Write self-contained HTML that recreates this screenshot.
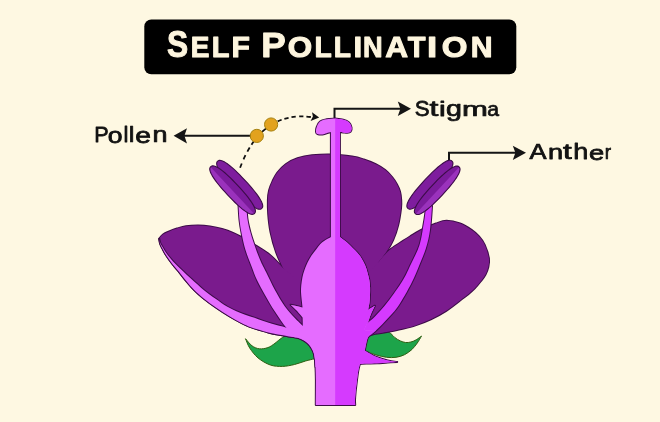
<!DOCTYPE html>
<html><head><meta charset="utf-8"><style>
html,body{margin:0;padding:0;background:#FEF8E2;}
svg{display:block;}
text{font-family:"Liberation Sans",sans-serif;}
</style></head><body>
<svg width="660" height="422" viewBox="0 0 660 422">
<defs>
<filter id="nof" x="0" y="0" width="660" height="422" filterUnits="userSpaceOnUse"><feOffset dx="0" dy="0"/></filter>
<clipPath id="rhalf"><rect x="335.2" y="0" width="200" height="422"/></clipPath>
</defs>
<rect width="660" height="422" fill="#FEF8E2"/>
<!-- title -->
<rect x="144.3" y="19.4" width="372" height="54.8" rx="7" fill="#000"/>
<g filter="url(#nof)"><text transform="translate(167.90,57.05) scale(0.874,1)" x="-1.05" font-size="36.30" font-weight="bold" fill="#FDF5DE"  stroke="#FDF5DE" stroke-width="1.0" stroke-linejoin="round">S</text><text transform="translate(192.60,57.00) scale(0.958,1)" x="-1.95" font-size="29.22" font-weight="bold" fill="#FDF5DE"  stroke="#FDF5DE" stroke-width="1.0" stroke-linejoin="round">E</text><text transform="translate(213.80,57.00) scale(0.994,1)" x="-1.95" font-size="29.22" font-weight="bold" fill="#FDF5DE"  stroke="#FDF5DE" stroke-width="1.0" stroke-linejoin="round">L</text><text transform="translate(233.50,57.00) scale(1.032,1)" x="-1.95" font-size="29.22" font-weight="bold" fill="#FDF5DE"  stroke="#FDF5DE" stroke-width="1.0" stroke-linejoin="round">F</text><text transform="translate(263.70,57.00) scale(1.045,1)" x="-2.35" font-size="35.18" font-weight="bold" fill="#FDF5DE"  stroke="#FDF5DE" stroke-width="1.0" stroke-linejoin="round">P</text><text transform="translate(289.10,57.11) scale(1.063,1)" x="-1.21" font-size="29.52" font-weight="bold" fill="#FDF5DE"  stroke="#FDF5DE" stroke-width="1.0" stroke-linejoin="round">O</text><text transform="translate(316.40,57.00) scale(0.967,1)" x="-1.95" font-size="29.22" font-weight="bold" fill="#FDF5DE"  stroke="#FDF5DE" stroke-width="1.0" stroke-linejoin="round">L</text><text transform="translate(335.50,57.00) scale(0.967,1)" x="-1.95" font-size="29.22" font-weight="bold" fill="#FDF5DE"  stroke="#FDF5DE" stroke-width="1.0" stroke-linejoin="round">L</text><text transform="translate(355.50,57.00) scale(1.069,1)" x="-1.95" font-size="29.22" font-weight="bold" fill="#FDF5DE"  stroke="#FDF5DE" stroke-width="1.0" stroke-linejoin="round">I</text><text transform="translate(364.70,57.00) scale(0.932,1)" x="-1.95" font-size="29.22" font-weight="bold" fill="#FDF5DE"  stroke="#FDF5DE" stroke-width="1.0" stroke-linejoin="round">N</text><text transform="translate(386.00,57.00) scale(1.082,1)" x="-0.73" font-size="29.22" font-weight="bold" fill="#FDF5DE"  stroke="#FDF5DE" stroke-width="1.0" stroke-linejoin="round">A</text><text transform="translate(408.20,57.00) scale(0.994,1)" x="-0.33" font-size="29.22" font-weight="bold" fill="#FDF5DE"  stroke="#FDF5DE" stroke-width="1.0" stroke-linejoin="round">T</text><text transform="translate(429.50,57.00) scale(1.259,1)" x="-1.95" font-size="29.22" font-weight="bold" fill="#FDF5DE"  stroke="#FDF5DE" stroke-width="1.0" stroke-linejoin="round">I</text><text transform="translate(443.00,57.11) scale(1.121,1)" x="-1.21" font-size="29.52" font-weight="bold" fill="#FDF5DE"  stroke="#FDF5DE" stroke-width="1.0" stroke-linejoin="round">O</text><text transform="translate(472.70,57.00) scale(1.036,1)" x="-1.95" font-size="29.22" font-weight="bold" fill="#FDF5DE"  stroke="#FDF5DE" stroke-width="1.0" stroke-linejoin="round">N</text></g>
<!-- labels -->
<g opacity="0.995"><text transform="translate(95.97,142.43) scale(0.964,1)" x="-1.83" font-size="22.31" font-weight="normal" fill="#111"  stroke="#111" stroke-width="0.75" stroke-linejoin="round" style="font-weight:normal">P</text><text transform="translate(108.78,142.52) scale(1.239,1)" x="-0.90" font-size="21.45" font-weight="normal" fill="#111"  stroke="#111" stroke-width="0.75" stroke-linejoin="round" style="font-weight:normal">o</text><text transform="translate(124.88,142.43) scale(0.971,1)" x="-1.54" font-size="22.84" font-weight="normal" fill="#111"  stroke="#111" stroke-width="0.75" stroke-linejoin="round" style="font-weight:normal">l</text><text transform="translate(130.57,142.43) scale(1.121,1)" x="-1.54" font-size="22.84" font-weight="normal" fill="#111"  stroke="#111" stroke-width="0.75" stroke-linejoin="round" style="font-weight:normal">l</text><text transform="translate(136.57,142.52) scale(1.317,1)" x="-0.91" font-size="21.45" font-weight="normal" fill="#111"  stroke="#111" stroke-width="0.75" stroke-linejoin="round" style="font-weight:normal">e</text><text transform="translate(154.18,142.43) scale(1.267,1)" x="-1.41" font-size="21.28" font-weight="normal" fill="#111"  stroke="#111" stroke-width="0.75" stroke-linejoin="round" style="font-weight:normal">n</text><text transform="translate(415.77,116.20) scale(0.991,1)" x="-1.02" font-size="22.53" font-weight="normal" fill="#111"  stroke="#111" stroke-width="0.75" stroke-linejoin="round" style="font-weight:normal">S</text><text transform="translate(430.07,116.16) scale(1.508,1)" x="-0.32" font-size="21.17" font-weight="normal" fill="#111"  stroke="#111" stroke-width="0.75" stroke-linejoin="round" style="font-weight:normal">t</text><text transform="translate(440.98,116.12) scale(1.461,1)" x="-1.38" font-size="20.63" font-weight="normal" fill="#111"  stroke="#111" stroke-width="0.75" stroke-linejoin="round" style="font-weight:normal">i</text><text transform="translate(447.18,116.40) scale(1.342,1)" x="-0.89" font-size="21.30" font-weight="normal" fill="#111"  stroke="#111" stroke-width="0.75" stroke-linejoin="round" style="font-weight:normal">g</text><text transform="translate(464.18,116.12) scale(1.498,1)" x="-1.38" font-size="20.72" font-weight="normal" fill="#111"  stroke="#111" stroke-width="0.75" stroke-linejoin="round" style="font-weight:normal">m</text><text transform="translate(488.07,116.22) scale(1.011,1)" x="-0.89" font-size="20.90" font-weight="normal" fill="#111"  stroke="#111" stroke-width="0.75" stroke-linejoin="round" style="font-weight:normal">a</text><text transform="translate(529.48,159.43) scale(1.131,1)" x="-0.04" font-size="22.60" font-weight="normal" fill="#111"  stroke="#111" stroke-width="0.75" stroke-linejoin="round" style="font-weight:normal">A</text><text transform="translate(549.88,159.43) scale(1.312,1)" x="-1.38" font-size="20.72" font-weight="normal" fill="#111"  stroke="#111" stroke-width="0.75" stroke-linejoin="round" style="font-weight:normal">n</text><text transform="translate(563.58,159.45) scale(1.427,1)" x="-0.33" font-size="22.08" font-weight="normal" fill="#111"  stroke="#111" stroke-width="0.75" stroke-linejoin="round" style="font-weight:normal">t</text><text transform="translate(575.17,159.43) scale(1.210,1)" x="-1.55" font-size="22.43" font-weight="normal" fill="#111"  stroke="#111" stroke-width="0.75" stroke-linejoin="round" style="font-weight:normal">h</text><text transform="translate(590.17,159.52) scale(1.310,1)" x="-0.89" font-size="20.90" font-weight="normal" fill="#111"  stroke="#111" stroke-width="0.75" stroke-linejoin="round" style="font-weight:normal">e</text><text transform="translate(605.88,159.43) scale(0.917,1)" x="-1.38" font-size="20.72" font-weight="normal" fill="#111"  stroke="#111" stroke-width="0.75" stroke-linejoin="round" style="font-weight:normal">r</text></g>
<g stroke="#151515" stroke-width="2" fill="none">
<path d="M184,135.85 H251"/>
<path d="M334.5,118.5 V108.75 H401.5"/>
<path d="M449,160 V152.85 H516.5"/>
</g>
<g fill="#151515">
<path d="M173.6,135.85 L187,128.2 L184.4,135.85 L187,143.5 Z"/>
<path d="M411,108.75 L397.8,101.6 L400.4,108.75 L397.8,115.9 Z"/>
<path d="M526,152.85 L512.8,145.7 L515.4,152.85 L512.8,160 Z"/>
</g>
<!-- leaves -->
<g fill="#1DA44A" stroke="#2E5F12" stroke-width="1">
<path d="M245.5,338.7 C246.6,339.9 249.7,344.1 252.0,345.8 C254.3,347.5 256.8,348.5 259.4,348.8 C262.0,349.1 265.3,348.5 267.9,347.6 C270.5,346.7 272.6,345.0 275.0,343.3 C277.4,341.6 279.6,339.1 282.4,337.5 C285.2,335.9 288.2,333.9 292.0,334.0 C295.8,334.1 302.8,337.3 305.0,338.0 L318.0,358.0 C315.9,358.5 309.4,359.9 305.5,361.0 C301.6,362.1 298.4,363.6 294.5,364.5 C290.6,365.4 286.4,366.3 282.4,366.4 C278.4,366.5 274.4,366.4 270.3,365.0 C266.2,363.6 261.4,360.7 258.0,357.9 C254.6,355.1 251.8,351.2 249.7,348.0 C247.6,344.8 246.2,340.2 245.5,338.7 Z"/><path d="M421.5,336.1 C420.6,336.7 418.0,338.8 416.2,339.8 C414.4,340.8 412.7,341.6 410.9,342.0 C409.1,342.4 407.4,342.7 405.6,342.5 C403.8,342.3 402.1,341.7 400.3,340.9 C398.5,340.1 396.6,338.9 395.0,337.7 C393.4,336.5 392.5,334.8 390.8,333.5 C389.1,332.2 386.0,330.6 385.0,330.0 C382.5,330.2 373.1,328.6 370.0,331.0 C366.9,333.4 367.4,340.9 366.4,344.1 C365.4,347.4 364.6,349.4 364.2,350.5 C365.1,350.9 367.4,351.8 369.5,352.6 C371.6,353.4 374.2,354.4 377.0,355.2 C379.8,356.0 383.3,356.9 386.5,357.3 C389.7,357.7 393.0,357.7 396.0,357.3 C399.0,356.9 401.8,356.0 404.5,354.7 C407.2,353.4 409.9,351.3 412.0,349.4 C414.1,347.4 415.7,345.2 417.3,343.0 C418.9,340.8 420.8,337.2 421.5,336.1 Z"/>
</g>
<!-- purple petals union -->
<g stroke="#3C0C48" stroke-width="2" fill="none" stroke-linejoin="round">
<path d="M283.0,268.0 C281.8,265.3 278.1,258.0 276.0,252.0 C273.9,246.0 271.8,238.3 270.5,232.0 C269.2,225.7 268.6,219.3 268.2,214.0 C267.8,208.7 267.8,203.9 267.9,200.0 C268.0,196.1 268.3,193.5 269.1,190.3 C269.9,187.1 271.3,183.8 272.7,180.8 C274.1,177.8 275.2,175.3 277.4,172.5 C279.6,169.7 282.3,166.6 285.7,164.2 C289.1,161.8 293.1,159.8 297.5,158.3 C301.9,156.8 306.2,155.9 312.0,155.3 C317.8,154.7 325.3,154.3 332.0,154.5 C338.7,154.7 346.7,155.7 352.0,156.5 C357.3,157.3 359.9,158.2 363.8,159.5 C367.8,160.8 372.1,162.4 375.7,164.2 C379.3,166.0 382.4,167.9 385.2,170.1 C388.0,172.3 390.3,174.9 392.3,177.3 C394.3,179.7 395.7,182.0 397.0,184.4 C398.3,186.8 399.3,188.9 400.0,191.5 C400.7,194.1 401.0,197.2 401.2,200.0 C401.4,202.8 401.5,204.2 401.0,208.3 C400.5,212.5 399.5,219.7 398.2,224.9 C396.9,230.2 395.1,235.4 393.2,239.8 C391.3,244.2 389.0,247.8 386.6,251.4 C384.2,255.0 380.4,259.7 379.1,261.3 C375.9,267.8 371.5,293.6 360.0,300.0 C348.5,306.4 322.8,305.3 310.0,300.0 C297.2,294.7 287.5,273.3 283.0,268.0 Z"/><path d="M159.2,238.7 C159.8,238.0 161.3,235.7 163.0,234.5 C164.7,233.3 166.9,232.4 169.2,231.4 C171.5,230.4 174.2,229.3 177.0,228.5 C179.8,227.7 182.5,226.8 186.0,226.3 C189.5,225.8 194.0,225.6 198.0,225.6 C202.0,225.6 206.0,225.9 210.0,226.5 C214.0,227.1 218.2,227.9 222.0,229.0 C225.8,230.1 229.2,231.3 233.0,233.0 C236.8,234.7 241.3,237.0 245.0,239.0 C248.7,241.0 250.8,242.3 255.0,245.0 C259.2,247.7 265.3,251.2 270.0,255.0 C274.7,258.8 280.8,265.8 283.0,268.0 C286.7,271.7 299.2,279.7 305.0,290.0 C310.8,300.3 318.8,322.0 318.0,330.0 C317.2,338.0 303.0,336.7 300.0,338.0 C299.5,337.9 299.0,337.9 297.0,337.6 C295.0,337.3 291.2,336.7 288.0,336.2 C284.8,335.7 281.2,335.2 277.9,334.6 C274.6,334.0 271.5,333.3 268.4,332.5 C265.2,331.7 262.1,330.7 259.0,329.8 C255.9,328.9 252.8,328.0 250.0,326.9 C247.2,325.8 245.4,325.0 241.9,323.2 C238.4,321.4 233.3,318.6 229.0,316.0 C224.7,313.4 220.5,310.6 216.3,307.7 C212.1,304.8 207.4,301.5 203.7,298.5 C200.0,295.5 196.9,292.7 194.0,289.8 C191.1,286.9 188.8,283.9 186.3,281.0 C183.8,278.1 181.5,274.9 179.2,272.1 C176.9,269.3 174.6,266.8 172.6,264.2 C170.6,261.6 168.6,258.9 167.0,256.5 C165.4,254.1 164.1,251.6 163.0,249.5 C161.9,247.4 160.9,245.8 160.3,244.0 C159.7,242.2 159.4,239.6 159.2,238.7 Z"/><path d="M379.1,261.3 C379.9,260.3 382.2,257.4 384.0,255.5 C385.8,253.6 387.3,251.8 389.9,249.7 C392.5,247.6 396.4,245.3 399.8,243.1 C403.2,240.9 406.1,238.8 410.0,236.5 C413.9,234.2 418.7,231.2 423.0,229.0 C427.3,226.8 432.1,224.9 436.0,223.5 C439.9,222.1 442.6,220.8 446.6,220.8 C450.6,220.8 455.9,222.0 460.0,223.5 C464.1,225.0 468.3,227.7 471.5,229.9 C474.7,232.1 476.8,234.0 479.0,236.5 C481.2,239.0 483.1,241.2 484.7,244.8 C486.3,248.4 488.3,254.4 488.9,258.1 C489.5,261.8 488.9,264.3 488.3,267.0 C487.7,269.7 486.7,272.2 485.5,274.5 C484.3,276.8 482.8,278.7 481.0,281.0 C479.2,283.3 476.8,286.2 474.5,288.5 C472.2,290.8 469.6,293.0 467.5,294.8 C465.4,296.6 465.2,296.6 461.6,299.3 C458.1,302.0 451.3,307.5 446.2,310.8 C441.1,314.1 435.9,316.9 430.8,319.3 C425.7,321.7 420.5,323.7 415.4,325.4 C410.3,327.1 404.6,328.2 400.0,329.3 C395.4,330.4 392.1,331.1 388.0,331.8 C383.9,332.6 377.6,333.5 375.5,333.8 C372.1,334.0 359.2,340.6 355.0,335.0 C350.8,329.4 346.0,312.3 350.0,300.0 C354.0,287.7 374.2,267.8 379.1,261.3 Z"/>
</g>
<g fill="#7A1B8D">
<path d="M283.0,268.0 C281.8,265.3 278.1,258.0 276.0,252.0 C273.9,246.0 271.8,238.3 270.5,232.0 C269.2,225.7 268.6,219.3 268.2,214.0 C267.8,208.7 267.8,203.9 267.9,200.0 C268.0,196.1 268.3,193.5 269.1,190.3 C269.9,187.1 271.3,183.8 272.7,180.8 C274.1,177.8 275.2,175.3 277.4,172.5 C279.6,169.7 282.3,166.6 285.7,164.2 C289.1,161.8 293.1,159.8 297.5,158.3 C301.9,156.8 306.2,155.9 312.0,155.3 C317.8,154.7 325.3,154.3 332.0,154.5 C338.7,154.7 346.7,155.7 352.0,156.5 C357.3,157.3 359.9,158.2 363.8,159.5 C367.8,160.8 372.1,162.4 375.7,164.2 C379.3,166.0 382.4,167.9 385.2,170.1 C388.0,172.3 390.3,174.9 392.3,177.3 C394.3,179.7 395.7,182.0 397.0,184.4 C398.3,186.8 399.3,188.9 400.0,191.5 C400.7,194.1 401.0,197.2 401.2,200.0 C401.4,202.8 401.5,204.2 401.0,208.3 C400.5,212.5 399.5,219.7 398.2,224.9 C396.9,230.2 395.1,235.4 393.2,239.8 C391.3,244.2 389.0,247.8 386.6,251.4 C384.2,255.0 380.4,259.7 379.1,261.3 C375.9,267.8 371.5,293.6 360.0,300.0 C348.5,306.4 322.8,305.3 310.0,300.0 C297.2,294.7 287.5,273.3 283.0,268.0 Z"/><path d="M159.2,238.7 C159.8,238.0 161.3,235.7 163.0,234.5 C164.7,233.3 166.9,232.4 169.2,231.4 C171.5,230.4 174.2,229.3 177.0,228.5 C179.8,227.7 182.5,226.8 186.0,226.3 C189.5,225.8 194.0,225.6 198.0,225.6 C202.0,225.6 206.0,225.9 210.0,226.5 C214.0,227.1 218.2,227.9 222.0,229.0 C225.8,230.1 229.2,231.3 233.0,233.0 C236.8,234.7 241.3,237.0 245.0,239.0 C248.7,241.0 250.8,242.3 255.0,245.0 C259.2,247.7 265.3,251.2 270.0,255.0 C274.7,258.8 280.8,265.8 283.0,268.0 C286.7,271.7 299.2,279.7 305.0,290.0 C310.8,300.3 318.8,322.0 318.0,330.0 C317.2,338.0 303.0,336.7 300.0,338.0 C299.5,337.9 299.0,337.9 297.0,337.6 C295.0,337.3 291.2,336.7 288.0,336.2 C284.8,335.7 281.2,335.2 277.9,334.6 C274.6,334.0 271.5,333.3 268.4,332.5 C265.2,331.7 262.1,330.7 259.0,329.8 C255.9,328.9 252.8,328.0 250.0,326.9 C247.2,325.8 245.4,325.0 241.9,323.2 C238.4,321.4 233.3,318.6 229.0,316.0 C224.7,313.4 220.5,310.6 216.3,307.7 C212.1,304.8 207.4,301.5 203.7,298.5 C200.0,295.5 196.9,292.7 194.0,289.8 C191.1,286.9 188.8,283.9 186.3,281.0 C183.8,278.1 181.5,274.9 179.2,272.1 C176.9,269.3 174.6,266.8 172.6,264.2 C170.6,261.6 168.6,258.9 167.0,256.5 C165.4,254.1 164.1,251.6 163.0,249.5 C161.9,247.4 160.9,245.8 160.3,244.0 C159.7,242.2 159.4,239.6 159.2,238.7 Z"/><path d="M379.1,261.3 C379.9,260.3 382.2,257.4 384.0,255.5 C385.8,253.6 387.3,251.8 389.9,249.7 C392.5,247.6 396.4,245.3 399.8,243.1 C403.2,240.9 406.1,238.8 410.0,236.5 C413.9,234.2 418.7,231.2 423.0,229.0 C427.3,226.8 432.1,224.9 436.0,223.5 C439.9,222.1 442.6,220.8 446.6,220.8 C450.6,220.8 455.9,222.0 460.0,223.5 C464.1,225.0 468.3,227.7 471.5,229.9 C474.7,232.1 476.8,234.0 479.0,236.5 C481.2,239.0 483.1,241.2 484.7,244.8 C486.3,248.4 488.3,254.4 488.9,258.1 C489.5,261.8 488.9,264.3 488.3,267.0 C487.7,269.7 486.7,272.2 485.5,274.5 C484.3,276.8 482.8,278.7 481.0,281.0 C479.2,283.3 476.8,286.2 474.5,288.5 C472.2,290.8 469.6,293.0 467.5,294.8 C465.4,296.6 465.2,296.6 461.6,299.3 C458.1,302.0 451.3,307.5 446.2,310.8 C441.1,314.1 435.9,316.9 430.8,319.3 C425.7,321.7 420.5,323.7 415.4,325.4 C410.3,327.1 404.6,328.2 400.0,329.3 C395.4,330.4 392.1,331.1 388.0,331.8 C383.9,332.6 377.6,333.5 375.5,333.8 C372.1,334.0 359.2,340.6 355.0,335.0 C350.8,329.4 346.0,312.3 350.0,300.0 C354.0,287.7 374.2,267.8 379.1,261.3 Z"/>
</g>
<!-- pink union -->
<g stroke="#3C0C48" stroke-width="2" fill="none" stroke-linejoin="round">
<path d="M159.2,238.7 C159.4,239.4 159.7,241.5 160.3,243.0 C160.9,244.5 161.8,245.8 162.8,247.5 C163.8,249.2 164.9,251.2 166.2,253.0 C167.5,254.8 168.9,256.6 170.5,258.5 C172.1,260.4 173.9,262.4 176.0,264.5 C178.1,266.6 180.5,268.8 182.8,271.0 C185.1,273.2 187.6,275.6 190.0,277.8 C192.4,280.0 194.7,281.9 197.0,284.0 C199.3,286.1 200.9,287.8 204.0,290.3 C207.1,292.8 211.7,296.1 215.6,298.8 C219.5,301.6 223.3,304.5 227.4,306.8 C231.5,309.1 234.7,310.7 240.0,312.8 C245.3,314.9 253.7,317.6 259.0,319.4 C264.3,321.2 267.4,322.4 272.0,323.8 C276.6,325.2 281.7,326.2 286.4,327.7 C291.1,329.2 297.7,332.1 300.0,333.0 C304.2,335.0 320.8,339.4 325.0,345.0 C329.2,350.6 326.6,363.2 325.0,366.9 C323.4,370.5 317.1,366.9 315.5,366.9 C315.4,365.5 315.2,360.9 314.8,358.4 C314.4,355.9 314.2,354.1 313.4,352.0 C312.6,349.9 311.4,347.5 309.8,345.6 C308.2,343.7 306.2,341.9 304.1,340.6 C302.0,339.3 299.7,338.3 297.0,337.6 C294.3,336.9 291.2,336.7 288.0,336.2 C284.8,335.7 281.2,335.2 277.9,334.6 C274.6,334.0 271.5,333.3 268.4,332.5 C265.2,331.7 262.1,330.7 259.0,329.8 C255.9,328.9 252.8,328.0 250.0,326.9 C247.2,325.8 245.4,325.0 241.9,323.2 C238.4,321.4 233.3,318.6 229.0,316.0 C224.7,313.4 220.5,310.6 216.3,307.7 C212.1,304.8 207.4,301.5 203.7,298.5 C200.0,295.5 196.9,292.7 194.0,289.8 C191.1,286.9 188.8,283.9 186.3,281.0 C183.8,278.1 181.5,274.9 179.2,272.1 C176.9,269.3 174.6,266.8 172.6,264.2 C170.6,261.6 168.6,258.9 167.0,256.5 C165.4,254.1 164.1,251.6 163.0,249.5 C161.9,247.4 160.9,245.8 160.3,244.0 C159.7,242.2 159.4,239.6 159.2,238.7 Z"/><path d="M238.5,205.0 C238.7,207.5 239.0,215.3 239.5,220.0 C240.0,224.7 240.6,228.2 241.6,233.2 C242.6,238.2 243.8,244.5 245.5,250.0 C247.2,255.5 249.7,261.4 251.6,266.4 C253.5,271.4 254.8,275.2 257.0,280.0 C259.2,284.8 262.0,289.6 265.0,294.9 C268.0,300.1 271.3,306.0 274.9,311.5 C278.5,317.0 283.0,323.8 286.5,328.0 C290.0,332.2 294.4,335.5 296.0,337.0 C297.5,336.0 303.8,332.8 305.0,331.0 C306.2,329.2 303.3,326.8 303.0,326.0 C301.6,324.7 297.8,321.2 294.8,318.0 C291.8,314.8 288.2,311.2 284.9,306.5 C281.6,301.8 278.0,295.8 274.9,290.0 C271.8,284.2 268.3,276.7 266.0,272.0 C263.7,267.3 262.8,266.0 261.0,262.0 C259.2,258.0 257.2,252.8 255.5,248.0 C253.8,243.2 251.9,237.7 250.6,233.0 C249.3,228.3 248.3,224.7 247.6,220.0 C246.9,215.3 246.5,207.5 246.3,205.0 L238.5,205.0 Z"/><path d="M426.0,206.0 C425.9,207.3 425.6,210.8 425.2,214.0 C424.8,217.2 424.4,219.8 423.5,225.0 C422.6,230.2 421.6,238.5 419.5,245.0 C417.4,251.5 413.8,258.2 411.0,264.0 C408.2,269.8 406.8,273.7 403.0,280.0 C399.2,286.3 392.7,295.5 388.0,301.6 C383.3,307.7 378.3,313.1 375.0,316.5 C371.7,319.9 369.4,321.3 368.3,322.3 C367.2,323.6 363.1,327.1 362.0,330.0 C360.9,332.9 360.9,338.9 362.0,340.0 C363.1,341.1 367.2,337.0 368.3,336.4 C369.4,335.6 372.2,333.9 375.0,331.4 C377.8,328.9 381.1,325.6 384.9,321.5 C388.7,317.4 393.6,312.9 398.0,306.5 C402.4,300.1 407.9,290.1 411.4,283.3 C414.9,276.6 416.6,271.9 419.0,266.0 C421.4,260.1 424.2,254.0 426.0,248.0 C427.8,242.0 429.0,237.0 430.0,230.0 C431.0,223.0 431.7,210.0 432.0,206.0 L426.0,206.0 Z"/><path d="M335.0,118.6 C336.4,118.8 340.9,119.1 343.2,119.7 C345.5,120.3 347.6,121.1 349.0,122.4 C350.4,123.7 351.2,125.9 351.5,127.4 C351.8,128.9 351.3,130.7 350.6,131.6 C349.9,132.5 348.5,132.7 347.3,132.8 C346.1,132.9 344.4,132.5 343.2,132.4 C342.0,132.3 340.4,132.1 339.9,132.0 L339.9,237.0 C341.1,237.9 344.9,240.7 347.0,242.5 C349.1,244.3 350.9,246.3 352.6,248.1 C354.4,249.8 356.1,251.4 357.5,253.0 C358.9,254.6 359.9,255.7 361.1,257.7 C362.4,259.7 363.9,262.5 365.0,265.0 C366.1,267.5 366.8,270.2 367.5,272.7 C368.2,275.2 368.9,277.5 369.3,280.0 C369.7,282.5 370.0,285.1 370.1,287.6 C370.2,290.1 370.1,292.5 370.0,295.0 C369.9,297.5 369.8,300.2 369.5,302.5 C369.2,304.8 368.5,307.9 368.3,309.0 L366.6,310.7 L374.9,305.7 C374.2,307.1 372.1,311.4 371.0,314.0 C369.9,316.6 368.8,320.2 368.3,321.5 C367.8,322.9 363.7,328.6 365.0,330.0 C366.3,331.4 374.1,330.0 375.9,330.0 C375.1,330.5 372.3,331.8 371.0,333.0 C369.7,334.2 368.7,335.9 367.9,337.5 C367.1,339.1 366.8,340.6 366.3,342.8 C365.8,345.0 365.0,349.5 364.7,350.8 C365.6,351.3 368.1,352.8 370.0,353.8 C371.9,354.8 373.0,355.7 375.9,356.8 C378.8,357.9 384.1,359.6 387.6,360.5 C391.2,361.4 395.6,361.8 397.2,362.0 C395.6,362.1 391.0,362.3 387.6,362.5 C384.2,362.7 380.6,363.1 377.0,363.3 C373.4,363.5 369.2,363.5 366.3,363.6 C363.4,363.7 361.0,363.8 359.9,363.9 C359.6,365.0 358.8,367.8 358.3,370.5 C357.8,373.2 357.4,376.4 357.0,380.0 C356.6,383.6 355.9,388.7 355.6,392.0 C355.3,395.3 355.1,397.8 355.0,400.0 C354.9,402.2 355.2,404.2 355.2,405.0 L315.8,405.0 C315.8,400.8 315.9,386.4 315.9,380.0 C315.8,373.6 315.7,370.5 315.5,366.9 C315.3,363.3 315.2,360.9 314.8,358.4 C314.4,355.9 314.2,354.1 313.4,352.0 C312.6,349.9 311.4,347.5 309.8,345.6 C308.2,343.7 306.2,341.9 304.1,340.6 C302.0,339.3 299.7,338.3 297.0,337.6 C294.3,336.9 289.5,336.4 288.0,336.2 C290.0,335.5 297.5,333.8 300.0,332.0 C302.5,330.2 302.3,326.8 302.8,325.7 L302.6,317.5 C301.5,316.2 298.0,312.1 296.0,310.0 C294.0,307.9 291.5,305.7 290.6,304.8 C291.6,305.0 294.5,305.6 296.5,306.0 C298.5,306.4 301.5,307.2 302.5,307.5 C302.4,306.1 301.9,301.6 301.6,299.0 C301.4,296.4 301.1,294.2 301.0,291.9 C300.9,289.6 301.1,287.5 301.3,285.0 C301.6,282.5 302.0,279.5 302.5,277.0 C303.0,274.5 303.6,272.5 304.5,270.0 C305.4,267.5 306.6,264.4 307.8,262.0 C309.0,259.6 310.1,257.6 311.5,255.5 C312.9,253.4 314.6,251.4 316.3,249.2 C318.1,247.0 319.6,244.5 322.0,242.5 C324.4,240.5 329.4,237.9 330.9,237.0 L330.9,132.0 C330.2,132.2 328.0,132.8 326.6,133.2 C325.2,133.6 323.9,134.4 322.4,134.5 C320.9,134.6 318.6,134.4 317.5,134.0 C316.4,133.6 316.1,133.1 316.0,132.0 C315.9,130.9 315.9,129.1 316.6,127.4 C317.3,125.7 318.3,122.9 320.0,121.6 C321.7,120.2 324.1,119.8 326.6,119.3 C329.1,118.8 333.6,118.7 335.0,118.6 Z"/>
</g>
<g>
<path d="M159.2,238.7 C159.4,239.4 159.7,241.5 160.3,243.0 C160.9,244.5 161.8,245.8 162.8,247.5 C163.8,249.2 164.9,251.2 166.2,253.0 C167.5,254.8 168.9,256.6 170.5,258.5 C172.1,260.4 173.9,262.4 176.0,264.5 C178.1,266.6 180.5,268.8 182.8,271.0 C185.1,273.2 187.6,275.6 190.0,277.8 C192.4,280.0 194.7,281.9 197.0,284.0 C199.3,286.1 200.9,287.8 204.0,290.3 C207.1,292.8 211.7,296.1 215.6,298.8 C219.5,301.6 223.3,304.5 227.4,306.8 C231.5,309.1 234.7,310.7 240.0,312.8 C245.3,314.9 253.7,317.6 259.0,319.4 C264.3,321.2 267.4,322.4 272.0,323.8 C276.6,325.2 281.7,326.2 286.4,327.7 C291.1,329.2 297.7,332.1 300.0,333.0 C304.2,335.0 320.8,339.4 325.0,345.0 C329.2,350.6 326.6,363.2 325.0,366.9 C323.4,370.5 317.1,366.9 315.5,366.9 C315.4,365.5 315.2,360.9 314.8,358.4 C314.4,355.9 314.2,354.1 313.4,352.0 C312.6,349.9 311.4,347.5 309.8,345.6 C308.2,343.7 306.2,341.9 304.1,340.6 C302.0,339.3 299.7,338.3 297.0,337.6 C294.3,336.9 291.2,336.7 288.0,336.2 C284.8,335.7 281.2,335.2 277.9,334.6 C274.6,334.0 271.5,333.3 268.4,332.5 C265.2,331.7 262.1,330.7 259.0,329.8 C255.9,328.9 252.8,328.0 250.0,326.9 C247.2,325.8 245.4,325.0 241.9,323.2 C238.4,321.4 233.3,318.6 229.0,316.0 C224.7,313.4 220.5,310.6 216.3,307.7 C212.1,304.8 207.4,301.5 203.7,298.5 C200.0,295.5 196.9,292.7 194.0,289.8 C191.1,286.9 188.8,283.9 186.3,281.0 C183.8,278.1 181.5,274.9 179.2,272.1 C176.9,269.3 174.6,266.8 172.6,264.2 C170.6,261.6 168.6,258.9 167.0,256.5 C165.4,254.1 164.1,251.6 163.0,249.5 C161.9,247.4 160.9,245.8 160.3,244.0 C159.7,242.2 159.4,239.6 159.2,238.7 Z" fill="#E56CFF"/><path d="M238.5,205.0 C238.7,207.5 239.0,215.3 239.5,220.0 C240.0,224.7 240.6,228.2 241.6,233.2 C242.6,238.2 243.8,244.5 245.5,250.0 C247.2,255.5 249.7,261.4 251.6,266.4 C253.5,271.4 254.8,275.2 257.0,280.0 C259.2,284.8 262.0,289.6 265.0,294.9 C268.0,300.1 271.3,306.0 274.9,311.5 C278.5,317.0 283.0,323.8 286.5,328.0 C290.0,332.2 294.4,335.5 296.0,337.0 C297.5,336.0 303.8,332.8 305.0,331.0 C306.2,329.2 303.3,326.8 303.0,326.0 C301.6,324.7 297.8,321.2 294.8,318.0 C291.8,314.8 288.2,311.2 284.9,306.5 C281.6,301.8 278.0,295.8 274.9,290.0 C271.8,284.2 268.3,276.7 266.0,272.0 C263.7,267.3 262.8,266.0 261.0,262.0 C259.2,258.0 257.2,252.8 255.5,248.0 C253.8,243.2 251.9,237.7 250.6,233.0 C249.3,228.3 248.3,224.7 247.6,220.0 C246.9,215.3 246.5,207.5 246.3,205.0 L238.5,205.0 Z" fill="#E56CFF"/><path d="M426.0,206.0 C425.9,207.3 425.6,210.8 425.2,214.0 C424.8,217.2 424.4,219.8 423.5,225.0 C422.6,230.2 421.6,238.5 419.5,245.0 C417.4,251.5 413.8,258.2 411.0,264.0 C408.2,269.8 406.8,273.7 403.0,280.0 C399.2,286.3 392.7,295.5 388.0,301.6 C383.3,307.7 378.3,313.1 375.0,316.5 C371.7,319.9 369.4,321.3 368.3,322.3 C367.2,323.6 363.1,327.1 362.0,330.0 C360.9,332.9 360.9,338.9 362.0,340.0 C363.1,341.1 367.2,337.0 368.3,336.4 C369.4,335.6 372.2,333.9 375.0,331.4 C377.8,328.9 381.1,325.6 384.9,321.5 C388.7,317.4 393.6,312.9 398.0,306.5 C402.4,300.1 407.9,290.1 411.4,283.3 C414.9,276.6 416.6,271.9 419.0,266.0 C421.4,260.1 424.2,254.0 426.0,248.0 C427.8,242.0 429.0,237.0 430.0,230.0 C431.0,223.0 431.7,210.0 432.0,206.0 L426.0,206.0 Z" fill="#D53AFE"/>
<path d="M335.0,118.6 C336.4,118.8 340.9,119.1 343.2,119.7 C345.5,120.3 347.6,121.1 349.0,122.4 C350.4,123.7 351.2,125.9 351.5,127.4 C351.8,128.9 351.3,130.7 350.6,131.6 C349.9,132.5 348.5,132.7 347.3,132.8 C346.1,132.9 344.4,132.5 343.2,132.4 C342.0,132.3 340.4,132.1 339.9,132.0 L339.9,237.0 C341.1,237.9 344.9,240.7 347.0,242.5 C349.1,244.3 350.9,246.3 352.6,248.1 C354.4,249.8 356.1,251.4 357.5,253.0 C358.9,254.6 359.9,255.7 361.1,257.7 C362.4,259.7 363.9,262.5 365.0,265.0 C366.1,267.5 366.8,270.2 367.5,272.7 C368.2,275.2 368.9,277.5 369.3,280.0 C369.7,282.5 370.0,285.1 370.1,287.6 C370.2,290.1 370.1,292.5 370.0,295.0 C369.9,297.5 369.8,300.2 369.5,302.5 C369.2,304.8 368.5,307.9 368.3,309.0 L366.6,310.7 L374.9,305.7 C374.2,307.1 372.1,311.4 371.0,314.0 C369.9,316.6 368.8,320.2 368.3,321.5 C367.8,322.9 363.7,328.6 365.0,330.0 C366.3,331.4 374.1,330.0 375.9,330.0 C375.1,330.5 372.3,331.8 371.0,333.0 C369.7,334.2 368.7,335.9 367.9,337.5 C367.1,339.1 366.8,340.6 366.3,342.8 C365.8,345.0 365.0,349.5 364.7,350.8 C365.6,351.3 368.1,352.8 370.0,353.8 C371.9,354.8 373.0,355.7 375.9,356.8 C378.8,357.9 384.1,359.6 387.6,360.5 C391.2,361.4 395.6,361.8 397.2,362.0 C395.6,362.1 391.0,362.3 387.6,362.5 C384.2,362.7 380.6,363.1 377.0,363.3 C373.4,363.5 369.2,363.5 366.3,363.6 C363.4,363.7 361.0,363.8 359.9,363.9 C359.6,365.0 358.8,367.8 358.3,370.5 C357.8,373.2 357.4,376.4 357.0,380.0 C356.6,383.6 355.9,388.7 355.6,392.0 C355.3,395.3 355.1,397.8 355.0,400.0 C354.9,402.2 355.2,404.2 355.2,405.0 L315.8,405.0 C315.8,400.8 315.9,386.4 315.9,380.0 C315.8,373.6 315.7,370.5 315.5,366.9 C315.3,363.3 315.2,360.9 314.8,358.4 C314.4,355.9 314.2,354.1 313.4,352.0 C312.6,349.9 311.4,347.5 309.8,345.6 C308.2,343.7 306.2,341.9 304.1,340.6 C302.0,339.3 299.7,338.3 297.0,337.6 C294.3,336.9 289.5,336.4 288.0,336.2 C290.0,335.5 297.5,333.8 300.0,332.0 C302.5,330.2 302.3,326.8 302.8,325.7 L302.6,317.5 C301.5,316.2 298.0,312.1 296.0,310.0 C294.0,307.9 291.5,305.7 290.6,304.8 C291.6,305.0 294.5,305.6 296.5,306.0 C298.5,306.4 301.5,307.2 302.5,307.5 C302.4,306.1 301.9,301.6 301.6,299.0 C301.4,296.4 301.1,294.2 301.0,291.9 C300.9,289.6 301.1,287.5 301.3,285.0 C301.6,282.5 302.0,279.5 302.5,277.0 C303.0,274.5 303.6,272.5 304.5,270.0 C305.4,267.5 306.6,264.4 307.8,262.0 C309.0,259.6 310.1,257.6 311.5,255.5 C312.9,253.4 314.6,251.4 316.3,249.2 C318.1,247.0 319.6,244.5 322.0,242.5 C324.4,240.5 329.4,237.9 330.9,237.0 L330.9,132.0 C330.2,132.2 328.0,132.8 326.6,133.2 C325.2,133.6 323.9,134.4 322.4,134.5 C320.9,134.6 318.6,134.4 317.5,134.0 C316.4,133.6 316.1,133.1 316.0,132.0 C315.9,130.9 315.9,129.1 316.6,127.4 C317.3,125.7 318.3,122.9 320.0,121.6 C321.7,120.2 324.1,119.8 326.6,119.3 C329.1,118.8 333.6,118.7 335.0,118.6 Z" fill="#E56CFF"/>
<path d="M335.0,118.6 C336.4,118.8 340.9,119.1 343.2,119.7 C345.5,120.3 347.6,121.1 349.0,122.4 C350.4,123.7 351.2,125.9 351.5,127.4 C351.8,128.9 351.3,130.7 350.6,131.6 C349.9,132.5 348.5,132.7 347.3,132.8 C346.1,132.9 344.4,132.5 343.2,132.4 C342.0,132.3 340.4,132.1 339.9,132.0 L339.9,237.0 C341.1,237.9 344.9,240.7 347.0,242.5 C349.1,244.3 350.9,246.3 352.6,248.1 C354.4,249.8 356.1,251.4 357.5,253.0 C358.9,254.6 359.9,255.7 361.1,257.7 C362.4,259.7 363.9,262.5 365.0,265.0 C366.1,267.5 366.8,270.2 367.5,272.7 C368.2,275.2 368.9,277.5 369.3,280.0 C369.7,282.5 370.0,285.1 370.1,287.6 C370.2,290.1 370.1,292.5 370.0,295.0 C369.9,297.5 369.8,300.2 369.5,302.5 C369.2,304.8 368.5,307.9 368.3,309.0 L366.6,310.7 L374.9,305.7 C374.2,307.1 372.1,311.4 371.0,314.0 C369.9,316.6 368.8,320.2 368.3,321.5 C367.8,322.9 363.7,328.6 365.0,330.0 C366.3,331.4 374.1,330.0 375.9,330.0 C375.1,330.5 372.3,331.8 371.0,333.0 C369.7,334.2 368.7,335.9 367.9,337.5 C367.1,339.1 366.8,340.6 366.3,342.8 C365.8,345.0 365.0,349.5 364.7,350.8 C365.6,351.3 368.1,352.8 370.0,353.8 C371.9,354.8 373.0,355.7 375.9,356.8 C378.8,357.9 384.1,359.6 387.6,360.5 C391.2,361.4 395.6,361.8 397.2,362.0 C395.6,362.1 391.0,362.3 387.6,362.5 C384.2,362.7 380.6,363.1 377.0,363.3 C373.4,363.5 369.2,363.5 366.3,363.6 C363.4,363.7 361.0,363.8 359.9,363.9 C359.6,365.0 358.8,367.8 358.3,370.5 C357.8,373.2 357.4,376.4 357.0,380.0 C356.6,383.6 355.9,388.7 355.6,392.0 C355.3,395.3 355.1,397.8 355.0,400.0 C354.9,402.2 355.2,404.2 355.2,405.0 L315.8,405.0 C315.8,400.8 315.9,386.4 315.9,380.0 C315.8,373.6 315.7,370.5 315.5,366.9 C315.3,363.3 315.2,360.9 314.8,358.4 C314.4,355.9 314.2,354.1 313.4,352.0 C312.6,349.9 311.4,347.5 309.8,345.6 C308.2,343.7 306.2,341.9 304.1,340.6 C302.0,339.3 299.7,338.3 297.0,337.6 C294.3,336.9 289.5,336.4 288.0,336.2 C290.0,335.5 297.5,333.8 300.0,332.0 C302.5,330.2 302.3,326.8 302.8,325.7 L302.6,317.5 C301.5,316.2 298.0,312.1 296.0,310.0 C294.0,307.9 291.5,305.7 290.6,304.8 C291.6,305.0 294.5,305.6 296.5,306.0 C298.5,306.4 301.5,307.2 302.5,307.5 C302.4,306.1 301.9,301.6 301.6,299.0 C301.4,296.4 301.1,294.2 301.0,291.9 C300.9,289.6 301.1,287.5 301.3,285.0 C301.6,282.5 302.0,279.5 302.5,277.0 C303.0,274.5 303.6,272.5 304.5,270.0 C305.4,267.5 306.6,264.4 307.8,262.0 C309.0,259.6 310.1,257.6 311.5,255.5 C312.9,253.4 314.6,251.4 316.3,249.2 C318.1,247.0 319.6,244.5 322.0,242.5 C324.4,240.5 329.4,237.9 330.9,237.0 L330.9,132.0 C330.2,132.2 328.0,132.8 326.6,133.2 C325.2,133.6 323.9,134.4 322.4,134.5 C320.9,134.6 318.6,134.4 317.5,134.0 C316.4,133.6 316.1,133.1 316.0,132.0 C315.9,130.9 315.9,129.1 316.6,127.4 C317.3,125.7 318.3,122.9 320.0,121.6 C321.7,120.2 324.1,119.8 326.6,119.3 C329.1,118.8 333.6,118.7 335.0,118.6 Z" fill="#D53AFE" clip-path="url(#rhalf)"/>
</g>
<!-- anthers -->
<g transform="translate(239.7,184.8) rotate(47)"><clipPath id="lc1"><path d="M32.30,0.00 L32.20,0.90 L31.89,1.60 L31.38,2.24 L30.67,2.82 L29.76,3.37 L28.65,3.87 L27.35,4.34 L25.87,4.77 L24.20,5.17 L22.35,5.53 L20.32,5.84 L18.13,6.12 L15.76,6.36 L13.21,6.55 L10.47,6.70 L7.51,6.81 L4.23,6.88 L0.00,6.90 L-4.23,6.88 L-7.51,6.81 L-10.47,6.70 L-13.21,6.55 L-15.76,6.36 L-18.13,6.12 L-20.32,5.84 L-22.35,5.53 L-24.20,5.17 L-25.87,4.77 L-27.35,4.34 L-28.65,3.87 L-29.76,3.37 L-30.67,2.82 L-31.38,2.24 L-31.89,1.60 L-32.20,0.90 L-32.30,0.00 L-32.20,-0.90 L-31.89,-1.60 L-31.38,-2.24 L-30.67,-2.82 L-29.76,-3.37 L-28.65,-3.87 L-27.35,-4.34 L-25.87,-4.77 L-24.20,-5.17 L-22.35,-5.53 L-20.32,-5.84 L-18.13,-6.12 L-15.76,-6.36 L-13.21,-6.55 L-10.47,-6.70 L-7.51,-6.81 L-4.23,-6.88 L-0.00,-6.90 L4.23,-6.88 L7.51,-6.81 L10.47,-6.70 L13.21,-6.55 L15.76,-6.36 L18.13,-6.12 L20.32,-5.84 L22.35,-5.53 L24.20,-5.17 L25.87,-4.77 L27.35,-4.34 L28.65,-3.87 L29.76,-3.37 L30.67,-2.82 L31.38,-2.24 L31.89,-1.60 L32.20,-0.90Z"/></clipPath><path d="M32.30,0.00 L32.20,0.90 L31.89,1.60 L31.38,2.24 L30.67,2.82 L29.76,3.37 L28.65,3.87 L27.35,4.34 L25.87,4.77 L24.20,5.17 L22.35,5.53 L20.32,5.84 L18.13,6.12 L15.76,6.36 L13.21,6.55 L10.47,6.70 L7.51,6.81 L4.23,6.88 L0.00,6.90 L-4.23,6.88 L-7.51,6.81 L-10.47,6.70 L-13.21,6.55 L-15.76,6.36 L-18.13,6.12 L-20.32,5.84 L-22.35,5.53 L-24.20,5.17 L-25.87,4.77 L-27.35,4.34 L-28.65,3.87 L-29.76,3.37 L-30.67,2.82 L-31.38,2.24 L-31.89,1.60 L-32.20,0.90 L-32.30,0.00 L-32.20,-0.90 L-31.89,-1.60 L-31.38,-2.24 L-30.67,-2.82 L-29.76,-3.37 L-28.65,-3.87 L-27.35,-4.34 L-25.87,-4.77 L-24.20,-5.17 L-22.35,-5.53 L-20.32,-5.84 L-18.13,-6.12 L-15.76,-6.36 L-13.21,-6.55 L-10.47,-6.70 L-7.51,-6.81 L-4.23,-6.88 L-0.00,-6.90 L4.23,-6.88 L7.51,-6.81 L10.47,-6.70 L13.21,-6.55 L15.76,-6.36 L18.13,-6.12 L20.32,-5.84 L22.35,-5.53 L24.20,-5.17 L25.87,-4.77 L27.35,-4.34 L28.65,-3.87 L29.76,-3.37 L30.67,-2.82 L31.38,-2.24 L31.89,-1.60 L32.20,-0.90Z" fill="#7E1D9E"/><rect x="-32.3" y="4.6" width="64.6" height="13.8" fill="#9A32BC" clip-path="url(#lc1)"/><path d="M32.30,0.00 L32.20,0.90 L31.89,1.60 L31.38,2.24 L30.67,2.82 L29.76,3.37 L28.65,3.87 L27.35,4.34 L25.87,4.77 L24.20,5.17 L22.35,5.53 L20.32,5.84 L18.13,6.12 L15.76,6.36 L13.21,6.55 L10.47,6.70 L7.51,6.81 L4.23,6.88 L0.00,6.90 L-4.23,6.88 L-7.51,6.81 L-10.47,6.70 L-13.21,6.55 L-15.76,6.36 L-18.13,6.12 L-20.32,5.84 L-22.35,5.53 L-24.20,5.17 L-25.87,4.77 L-27.35,4.34 L-28.65,3.87 L-29.76,3.37 L-30.67,2.82 L-31.38,2.24 L-31.89,1.60 L-32.20,0.90 L-32.30,0.00 L-32.20,-0.90 L-31.89,-1.60 L-31.38,-2.24 L-30.67,-2.82 L-29.76,-3.37 L-28.65,-3.87 L-27.35,-4.34 L-25.87,-4.77 L-24.20,-5.17 L-22.35,-5.53 L-20.32,-5.84 L-18.13,-6.12 L-15.76,-6.36 L-13.21,-6.55 L-10.47,-6.70 L-7.51,-6.81 L-4.23,-6.88 L-0.00,-6.90 L4.23,-6.88 L7.51,-6.81 L10.47,-6.70 L13.21,-6.55 L15.76,-6.36 L18.13,-6.12 L20.32,-5.84 L22.35,-5.53 L24.20,-5.17 L25.87,-4.77 L27.35,-4.34 L28.65,-3.87 L29.76,-3.37 L30.67,-2.82 L31.38,-2.24 L31.89,-1.60 L32.20,-0.90Z" fill="none" stroke="#3C0C48" stroke-width="1.1"/></g><g transform="translate(232.6,190.1) rotate(47)"><clipPath id="lc2"><path d="M32.00,0.00 L31.90,0.90 L31.59,1.60 L31.09,2.24 L30.38,2.82 L29.48,3.37 L28.39,3.87 L27.10,4.34 L25.63,4.77 L23.97,5.17 L22.14,5.53 L20.14,5.84 L17.96,6.12 L15.61,6.36 L13.09,6.55 L10.37,6.70 L7.44,6.81 L4.19,6.88 L0.00,6.90 L-4.19,6.88 L-7.44,6.81 L-10.37,6.70 L-13.09,6.55 L-15.61,6.36 L-17.96,6.12 L-20.14,5.84 L-22.14,5.53 L-23.97,5.17 L-25.63,4.77 L-27.10,4.34 L-28.39,3.87 L-29.48,3.37 L-30.38,2.82 L-31.09,2.24 L-31.59,1.60 L-31.90,0.90 L-32.00,0.00 L-31.90,-0.90 L-31.59,-1.60 L-31.09,-2.24 L-30.38,-2.82 L-29.48,-3.37 L-28.39,-3.87 L-27.10,-4.34 L-25.63,-4.77 L-23.97,-5.17 L-22.14,-5.53 L-20.14,-5.84 L-17.96,-6.12 L-15.61,-6.36 L-13.09,-6.55 L-10.37,-6.70 L-7.44,-6.81 L-4.19,-6.88 L-0.00,-6.90 L4.19,-6.88 L7.44,-6.81 L10.37,-6.70 L13.09,-6.55 L15.61,-6.36 L17.96,-6.12 L20.14,-5.84 L22.14,-5.53 L23.97,-5.17 L25.63,-4.77 L27.10,-4.34 L28.39,-3.87 L29.48,-3.37 L30.38,-2.82 L31.09,-2.24 L31.59,-1.60 L31.90,-0.90Z"/></clipPath><path d="M32.00,0.00 L31.90,0.90 L31.59,1.60 L31.09,2.24 L30.38,2.82 L29.48,3.37 L28.39,3.87 L27.10,4.34 L25.63,4.77 L23.97,5.17 L22.14,5.53 L20.14,5.84 L17.96,6.12 L15.61,6.36 L13.09,6.55 L10.37,6.70 L7.44,6.81 L4.19,6.88 L0.00,6.90 L-4.19,6.88 L-7.44,6.81 L-10.37,6.70 L-13.09,6.55 L-15.61,6.36 L-17.96,6.12 L-20.14,5.84 L-22.14,5.53 L-23.97,5.17 L-25.63,4.77 L-27.10,4.34 L-28.39,3.87 L-29.48,3.37 L-30.38,2.82 L-31.09,2.24 L-31.59,1.60 L-31.90,0.90 L-32.00,0.00 L-31.90,-0.90 L-31.59,-1.60 L-31.09,-2.24 L-30.38,-2.82 L-29.48,-3.37 L-28.39,-3.87 L-27.10,-4.34 L-25.63,-4.77 L-23.97,-5.17 L-22.14,-5.53 L-20.14,-5.84 L-17.96,-6.12 L-15.61,-6.36 L-13.09,-6.55 L-10.37,-6.70 L-7.44,-6.81 L-4.19,-6.88 L-0.00,-6.90 L4.19,-6.88 L7.44,-6.81 L10.37,-6.70 L13.09,-6.55 L15.61,-6.36 L17.96,-6.12 L20.14,-5.84 L22.14,-5.53 L23.97,-5.17 L25.63,-4.77 L27.10,-4.34 L28.39,-3.87 L29.48,-3.37 L30.38,-2.82 L31.09,-2.24 L31.59,-1.60 L31.90,-0.90Z" fill="#7B1B9B"/><rect x="-32.0" y="0.3" width="64.0" height="13.8" fill="#9A32BC" clip-path="url(#lc2)"/><path d="M32.00,0.00 L31.90,0.90 L31.59,1.60 L31.09,2.24 L30.38,2.82 L29.48,3.37 L28.39,3.87 L27.10,4.34 L25.63,4.77 L23.97,5.17 L22.14,5.53 L20.14,5.84 L17.96,6.12 L15.61,6.36 L13.09,6.55 L10.37,6.70 L7.44,6.81 L4.19,6.88 L0.00,6.90 L-4.19,6.88 L-7.44,6.81 L-10.37,6.70 L-13.09,6.55 L-15.61,6.36 L-17.96,6.12 L-20.14,5.84 L-22.14,5.53 L-23.97,5.17 L-25.63,4.77 L-27.10,4.34 L-28.39,3.87 L-29.48,3.37 L-30.38,2.82 L-31.09,2.24 L-31.59,1.60 L-31.90,0.90 L-32.00,0.00 L-31.90,-0.90 L-31.59,-1.60 L-31.09,-2.24 L-30.38,-2.82 L-29.48,-3.37 L-28.39,-3.87 L-27.10,-4.34 L-25.63,-4.77 L-23.97,-5.17 L-22.14,-5.53 L-20.14,-5.84 L-17.96,-6.12 L-15.61,-6.36 L-13.09,-6.55 L-10.37,-6.70 L-7.44,-6.81 L-4.19,-6.88 L-0.00,-6.90 L4.19,-6.88 L7.44,-6.81 L10.37,-6.70 L13.09,-6.55 L15.61,-6.36 L17.96,-6.12 L20.14,-5.84 L22.14,-5.53 L23.97,-5.17 L25.63,-4.77 L27.10,-4.34 L28.39,-3.87 L29.48,-3.37 L30.38,-2.82 L31.09,-2.24 L31.59,-1.60 L31.90,-0.90Z" fill="none" stroke="#3C0C48" stroke-width="1.1"/></g><g transform="translate(429.9,184.7) rotate(-47)"><clipPath id="lc3"><path d="M32.30,0.00 L32.20,0.90 L31.89,1.60 L31.38,2.24 L30.67,2.82 L29.76,3.37 L28.65,3.87 L27.35,4.34 L25.87,4.77 L24.20,5.17 L22.35,5.53 L20.32,5.84 L18.13,6.12 L15.76,6.36 L13.21,6.55 L10.47,6.70 L7.51,6.81 L4.23,6.88 L0.00,6.90 L-4.23,6.88 L-7.51,6.81 L-10.47,6.70 L-13.21,6.55 L-15.76,6.36 L-18.13,6.12 L-20.32,5.84 L-22.35,5.53 L-24.20,5.17 L-25.87,4.77 L-27.35,4.34 L-28.65,3.87 L-29.76,3.37 L-30.67,2.82 L-31.38,2.24 L-31.89,1.60 L-32.20,0.90 L-32.30,0.00 L-32.20,-0.90 L-31.89,-1.60 L-31.38,-2.24 L-30.67,-2.82 L-29.76,-3.37 L-28.65,-3.87 L-27.35,-4.34 L-25.87,-4.77 L-24.20,-5.17 L-22.35,-5.53 L-20.32,-5.84 L-18.13,-6.12 L-15.76,-6.36 L-13.21,-6.55 L-10.47,-6.70 L-7.51,-6.81 L-4.23,-6.88 L-0.00,-6.90 L4.23,-6.88 L7.51,-6.81 L10.47,-6.70 L13.21,-6.55 L15.76,-6.36 L18.13,-6.12 L20.32,-5.84 L22.35,-5.53 L24.20,-5.17 L25.87,-4.77 L27.35,-4.34 L28.65,-3.87 L29.76,-3.37 L30.67,-2.82 L31.38,-2.24 L31.89,-1.60 L32.20,-0.90Z"/></clipPath><path d="M32.30,0.00 L32.20,0.90 L31.89,1.60 L31.38,2.24 L30.67,2.82 L29.76,3.37 L28.65,3.87 L27.35,4.34 L25.87,4.77 L24.20,5.17 L22.35,5.53 L20.32,5.84 L18.13,6.12 L15.76,6.36 L13.21,6.55 L10.47,6.70 L7.51,6.81 L4.23,6.88 L0.00,6.90 L-4.23,6.88 L-7.51,6.81 L-10.47,6.70 L-13.21,6.55 L-15.76,6.36 L-18.13,6.12 L-20.32,5.84 L-22.35,5.53 L-24.20,5.17 L-25.87,4.77 L-27.35,4.34 L-28.65,3.87 L-29.76,3.37 L-30.67,2.82 L-31.38,2.24 L-31.89,1.60 L-32.20,0.90 L-32.30,0.00 L-32.20,-0.90 L-31.89,-1.60 L-31.38,-2.24 L-30.67,-2.82 L-29.76,-3.37 L-28.65,-3.87 L-27.35,-4.34 L-25.87,-4.77 L-24.20,-5.17 L-22.35,-5.53 L-20.32,-5.84 L-18.13,-6.12 L-15.76,-6.36 L-13.21,-6.55 L-10.47,-6.70 L-7.51,-6.81 L-4.23,-6.88 L-0.00,-6.90 L4.23,-6.88 L7.51,-6.81 L10.47,-6.70 L13.21,-6.55 L15.76,-6.36 L18.13,-6.12 L20.32,-5.84 L22.35,-5.53 L24.20,-5.17 L25.87,-4.77 L27.35,-4.34 L28.65,-3.87 L29.76,-3.37 L30.67,-2.82 L31.38,-2.24 L31.89,-1.60 L32.20,-0.90Z" fill="#7E1D9E"/><rect x="-32.3" y="4.6" width="64.6" height="13.8" fill="#9A32BC" clip-path="url(#lc3)"/><path d="M32.30,0.00 L32.20,0.90 L31.89,1.60 L31.38,2.24 L30.67,2.82 L29.76,3.37 L28.65,3.87 L27.35,4.34 L25.87,4.77 L24.20,5.17 L22.35,5.53 L20.32,5.84 L18.13,6.12 L15.76,6.36 L13.21,6.55 L10.47,6.70 L7.51,6.81 L4.23,6.88 L0.00,6.90 L-4.23,6.88 L-7.51,6.81 L-10.47,6.70 L-13.21,6.55 L-15.76,6.36 L-18.13,6.12 L-20.32,5.84 L-22.35,5.53 L-24.20,5.17 L-25.87,4.77 L-27.35,4.34 L-28.65,3.87 L-29.76,3.37 L-30.67,2.82 L-31.38,2.24 L-31.89,1.60 L-32.20,0.90 L-32.30,0.00 L-32.20,-0.90 L-31.89,-1.60 L-31.38,-2.24 L-30.67,-2.82 L-29.76,-3.37 L-28.65,-3.87 L-27.35,-4.34 L-25.87,-4.77 L-24.20,-5.17 L-22.35,-5.53 L-20.32,-5.84 L-18.13,-6.12 L-15.76,-6.36 L-13.21,-6.55 L-10.47,-6.70 L-7.51,-6.81 L-4.23,-6.88 L-0.00,-6.90 L4.23,-6.88 L7.51,-6.81 L10.47,-6.70 L13.21,-6.55 L15.76,-6.36 L18.13,-6.12 L20.32,-5.84 L22.35,-5.53 L24.20,-5.17 L25.87,-4.77 L27.35,-4.34 L28.65,-3.87 L29.76,-3.37 L30.67,-2.82 L31.38,-2.24 L31.89,-1.60 L32.20,-0.90Z" fill="none" stroke="#3C0C48" stroke-width="1.1"/></g><g transform="translate(437.2,190.3) rotate(-47)"><clipPath id="lc4"><path d="M32.00,0.00 L31.90,0.90 L31.59,1.60 L31.09,2.24 L30.38,2.82 L29.48,3.37 L28.39,3.87 L27.10,4.34 L25.63,4.77 L23.97,5.17 L22.14,5.53 L20.14,5.84 L17.96,6.12 L15.61,6.36 L13.09,6.55 L10.37,6.70 L7.44,6.81 L4.19,6.88 L0.00,6.90 L-4.19,6.88 L-7.44,6.81 L-10.37,6.70 L-13.09,6.55 L-15.61,6.36 L-17.96,6.12 L-20.14,5.84 L-22.14,5.53 L-23.97,5.17 L-25.63,4.77 L-27.10,4.34 L-28.39,3.87 L-29.48,3.37 L-30.38,2.82 L-31.09,2.24 L-31.59,1.60 L-31.90,0.90 L-32.00,0.00 L-31.90,-0.90 L-31.59,-1.60 L-31.09,-2.24 L-30.38,-2.82 L-29.48,-3.37 L-28.39,-3.87 L-27.10,-4.34 L-25.63,-4.77 L-23.97,-5.17 L-22.14,-5.53 L-20.14,-5.84 L-17.96,-6.12 L-15.61,-6.36 L-13.09,-6.55 L-10.37,-6.70 L-7.44,-6.81 L-4.19,-6.88 L-0.00,-6.90 L4.19,-6.88 L7.44,-6.81 L10.37,-6.70 L13.09,-6.55 L15.61,-6.36 L17.96,-6.12 L20.14,-5.84 L22.14,-5.53 L23.97,-5.17 L25.63,-4.77 L27.10,-4.34 L28.39,-3.87 L29.48,-3.37 L30.38,-2.82 L31.09,-2.24 L31.59,-1.60 L31.90,-0.90Z"/></clipPath><path d="M32.00,0.00 L31.90,0.90 L31.59,1.60 L31.09,2.24 L30.38,2.82 L29.48,3.37 L28.39,3.87 L27.10,4.34 L25.63,4.77 L23.97,5.17 L22.14,5.53 L20.14,5.84 L17.96,6.12 L15.61,6.36 L13.09,6.55 L10.37,6.70 L7.44,6.81 L4.19,6.88 L0.00,6.90 L-4.19,6.88 L-7.44,6.81 L-10.37,6.70 L-13.09,6.55 L-15.61,6.36 L-17.96,6.12 L-20.14,5.84 L-22.14,5.53 L-23.97,5.17 L-25.63,4.77 L-27.10,4.34 L-28.39,3.87 L-29.48,3.37 L-30.38,2.82 L-31.09,2.24 L-31.59,1.60 L-31.90,0.90 L-32.00,0.00 L-31.90,-0.90 L-31.59,-1.60 L-31.09,-2.24 L-30.38,-2.82 L-29.48,-3.37 L-28.39,-3.87 L-27.10,-4.34 L-25.63,-4.77 L-23.97,-5.17 L-22.14,-5.53 L-20.14,-5.84 L-17.96,-6.12 L-15.61,-6.36 L-13.09,-6.55 L-10.37,-6.70 L-7.44,-6.81 L-4.19,-6.88 L-0.00,-6.90 L4.19,-6.88 L7.44,-6.81 L10.37,-6.70 L13.09,-6.55 L15.61,-6.36 L17.96,-6.12 L20.14,-5.84 L22.14,-5.53 L23.97,-5.17 L25.63,-4.77 L27.10,-4.34 L28.39,-3.87 L29.48,-3.37 L30.38,-2.82 L31.09,-2.24 L31.59,-1.60 L31.90,-0.90Z" fill="#7B1B9B"/><rect x="-32.0" y="0.3" width="64.0" height="13.8" fill="#9A32BC" clip-path="url(#lc4)"/><path d="M32.00,0.00 L31.90,0.90 L31.59,1.60 L31.09,2.24 L30.38,2.82 L29.48,3.37 L28.39,3.87 L27.10,4.34 L25.63,4.77 L23.97,5.17 L22.14,5.53 L20.14,5.84 L17.96,6.12 L15.61,6.36 L13.09,6.55 L10.37,6.70 L7.44,6.81 L4.19,6.88 L0.00,6.90 L-4.19,6.88 L-7.44,6.81 L-10.37,6.70 L-13.09,6.55 L-15.61,6.36 L-17.96,6.12 L-20.14,5.84 L-22.14,5.53 L-23.97,5.17 L-25.63,4.77 L-27.10,4.34 L-28.39,3.87 L-29.48,3.37 L-30.38,2.82 L-31.09,2.24 L-31.59,1.60 L-31.90,0.90 L-32.00,0.00 L-31.90,-0.90 L-31.59,-1.60 L-31.09,-2.24 L-30.38,-2.82 L-29.48,-3.37 L-28.39,-3.87 L-27.10,-4.34 L-25.63,-4.77 L-23.97,-5.17 L-22.14,-5.53 L-20.14,-5.84 L-17.96,-6.12 L-15.61,-6.36 L-13.09,-6.55 L-10.37,-6.70 L-7.44,-6.81 L-4.19,-6.88 L-0.00,-6.90 L4.19,-6.88 L7.44,-6.81 L10.37,-6.70 L13.09,-6.55 L15.61,-6.36 L17.96,-6.12 L20.14,-5.84 L22.14,-5.53 L23.97,-5.17 L25.63,-4.77 L27.10,-4.34 L28.39,-3.87 L29.48,-3.37 L30.38,-2.82 L31.09,-2.24 L31.59,-1.60 L31.90,-0.90Z" fill="none" stroke="#3C0C48" stroke-width="1.1"/></g>
<!-- pollen path -->
<path d="M240,168 Q261,111 311,117" fill="none" stroke="#111" stroke-width="1.8" stroke-dasharray="0 0.3 4.4 4.5 4.7 4.0 4.7 3.4 4.5 12.0 5.5 13.55 4.3 2.9 4.3 3.0 4.3 3.4 4.3 3.0 4.35 20"/>
<path d="M319.2,117.6 L312,112.3 L312.9,116.6 L310.6,120.9 Z" fill="#111"/>
<g fill="#E2A21E" stroke="#A4800F" stroke-width="1">
<circle cx="256.8" cy="135.9" r="6.6"/><circle cx="271.1" cy="124.5" r="6.6"/>
</g>
</svg>
</body></html>
